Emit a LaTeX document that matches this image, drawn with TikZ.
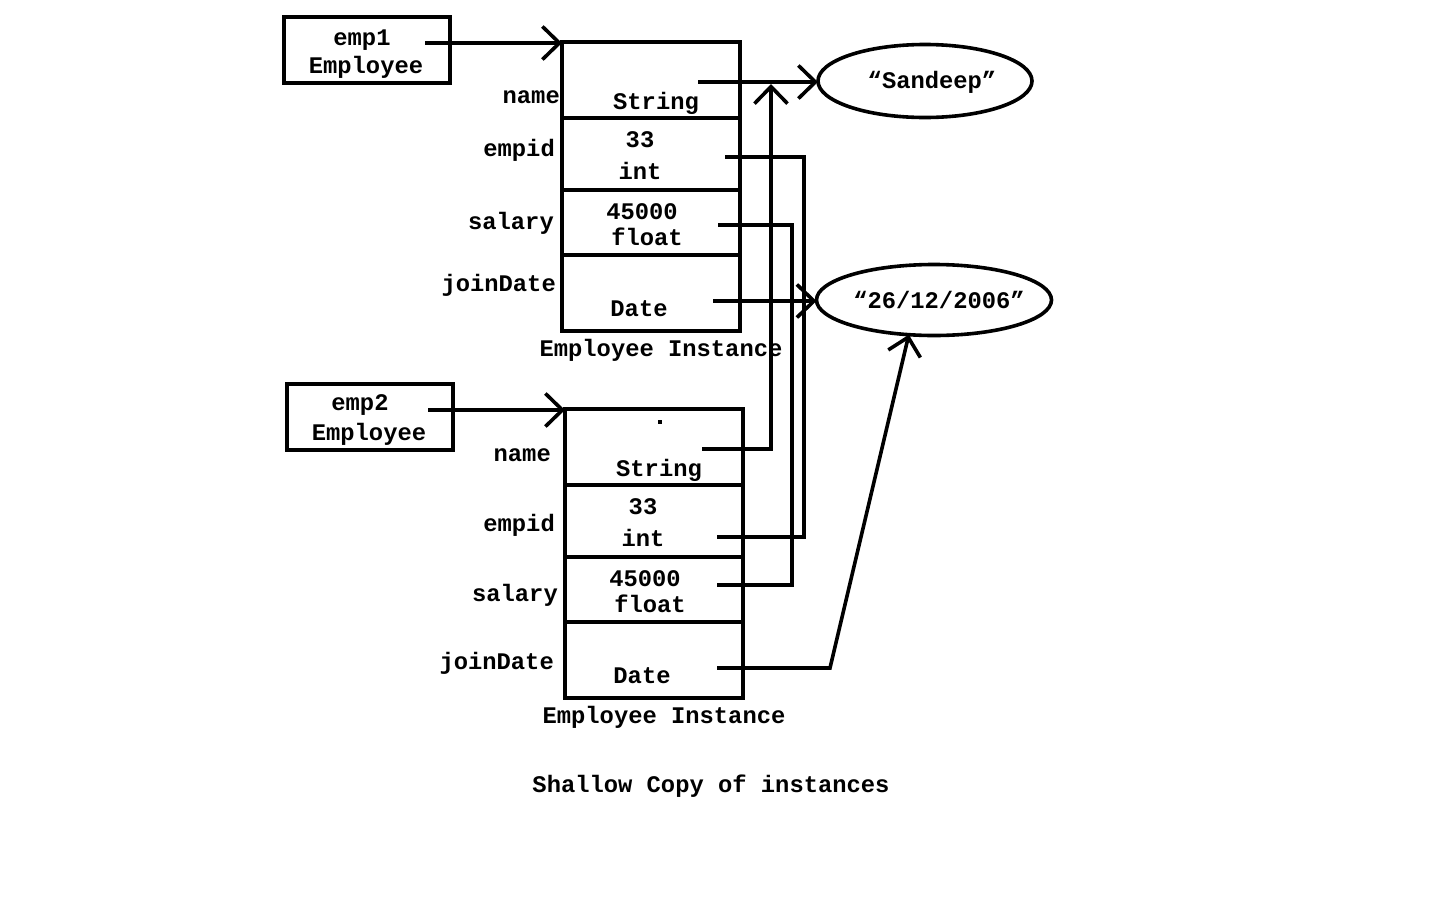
\documentclass[tikz,border=0pt]{standalone}
\usepackage{fontspec}
\setmainfont{Liberation Mono}
\usetikzlibrary{arrows.meta,shapes.geometric}
\begin{document}
\begin{tikzpicture}[x=1pt,y=-1pt,
  lw/.style={line width=3.6pt},
  txt/.style={font=\fontsize{23.8}{28}\selectfont\bfseries, inner sep=0pt, text height=16pt, text depth=0pt},
  lbl/.style={txt, anchor=east},
  refbox/.style={draw, lw, minimum width=166pt, minimum height=66pt, inner sep=0pt, outer sep=0pt},
  cell/.style={draw, lw, minimum width=178pt, inner sep=0pt, outer sep=0pt},
  val/.style={draw, lw, ellipse, inner sep=0pt, outer sep=0pt},
  wire/.style={lw},
  ptr/.style={lw, -{Straight Barb[length=17pt,width=33pt]}}
]
\useasboundingbox (0,0) rectangle (1440,900);

% reference boxes
\node[refbox] (emp1) at (367,50) {};
\node[txt] (emp1a) at (362,37) {emp1};
\node[txt] (emp1b) at (366,65) {Employee};
\node[refbox] (emp2) at (370,417) {};
\node[txt] (emp2a) at (360,402) {emp2};
\node[txt] (emp2b) at (369,432) {Employee};

% instance 1 cells
\node[cell, minimum height=76pt] (n1) at (651,80) {};
\node[cell, minimum height=72pt] (e1) at (651,154) {};
\node[cell, minimum height=65pt] (s1) at (651,222.5) {};
\node[cell, minimum height=76pt] (d1) at (651,293) {};
% instance 2 cells
\node[cell, minimum height=76pt] (n2) at (654,447) {};
\node[cell, minimum height=72pt] (e2) at (654,521) {};
\node[cell, minimum height=65pt] (s2) at (654,589.5) {};
\node[cell, minimum height=76pt] (d2) at (654,660) {};

% cell texts instance 1
\node[txt] (t1) at (656,101) {String};
\node[txt] (t2) at (640,139) {33};
\node[txt] (t3) at (640,171) {int};
\node[txt] (t4) at (642,211) {45000};
\node[txt] (t5) at (647,237) {float};
\node[txt] (t6) at (639,308) {Date};
% cell texts instance 2
\fill (658,420) rectangle (662,424);
\node[txt] (u1) at (659,468) {String};
\node[txt] (u2) at (643,506) {33};
\node[txt] (u3) at (643,538) {int};
\node[txt] (u4) at (645,578) {45000};
\node[txt] (u5) at (650,604) {float};
\node[txt] (u6) at (642,675) {Date};

% field labels
\node[lbl] (l1) at (560,95) {name};
\node[lbl] (l2) at (555,148) {empid};
\node[lbl] (l3) at (554,221) {salary};
\node[lbl] (l4) at (556,283) {joinDate};
\node[lbl] (m1) at (551,453) {name};
\node[lbl] (m2) at (555,523) {empid};
\node[lbl] (m3) at (558,593) {salary};
\node[lbl] (m4) at (554,661) {joinDate};

\node[txt] (cap1) at (661,348) {Employee Instance};
\node[txt] (cap2) at (664,715) {Employee Instance};
\node[txt] (title) at (711,784) {Shallow Copy of instances};

% value ellipses
\node[val, minimum width=214pt, minimum height=73pt] (sand) at (925,81) {};
\node[txt] (sandt) at (932,80) {“Sandeep”};
\node[val, minimum width=235pt, minimum height=71pt] (date) at (934,300) {};
\node[txt] (datet) at (939,300) {“26/12/2006”};

% connector end points
\coordinate (p1) at (425,43);
\coordinate (p2) at (428,410);
\coordinate (a1) at (698,82);
\coordinate (a2) at (702,449);
\coordinate (atip) at (771,84);
\coordinate (b1) at (725,157);
\coordinate (b2) at (717,537);
\coordinate (bc) at (804,157);
\coordinate (c1) at (718,225);
\coordinate (c2) at (717,585);
\coordinate (cc) at (792,225);
\coordinate (g1) at (713,301);
\coordinate (g2) at (717,668);
\coordinate (gk) at (830,668);

% connectors
\draw[ptr] (p1) -- (p1 -| n1.north west);
\draw[ptr] (p2) -- (p2 -| n2.north west);
\draw[ptr] (a1) -- (a1 -| sand.west);
\draw[ptr] (a2) -| (atip);
\draw[wire] (b2) -| (bc) -- (b1);
\draw[wire] (c2) -| (cc) -- (c1);
\draw[ptr] (g1) -- (g1 -| date.west);
\draw[ptr] (g2) -- (gk) -- (date.234);
\end{tikzpicture}
\end{document}
